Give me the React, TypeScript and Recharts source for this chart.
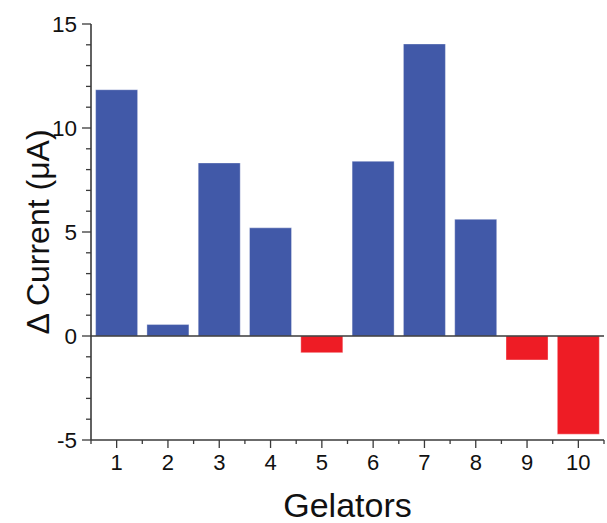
import React from 'react'
import { BarChart, Bar, XAxis, YAxis, Cell, ReferenceLine, Label } from 'recharts'

// Δ current per gelator (µA)
const GELATORS = ['1', '2', '3', '4', '5', '6', '7', '8', '9', '10']
const DELTA_CURRENT = [11.84, 0.55, 8.32, 5.2, -0.8, 8.4, 14.04, 5.61, -1.15, -4.72]
const Y_TICKS = [-5, -4, -3, -2, -1, 0, 1, 2, 3, 4, 5, 6, 7, 8, 9, 10, 11, 12, 13, 14, 15]

const BLUE = '#4159a8'
const RED = '#ee1c25'
const AXIS = '#3a3a3a'
const FONT = '"Liberation Sans", Arial, sans-serif'

const data = GELATORS.map((g, i) => ({ gelator: g, value: DELTA_CURRENT[i] }))

function YTick({ x, y, payload }: any) {
  const major = payload.value % 5 === 0
  return (
    <g>
      <line x1={x - (major ? 9 : 5)} x2={x} y1={y} y2={y} stroke={AXIS} strokeWidth={1.3} />
      {major && (
        <text x={x - 14} y={y} dy="0.34em" textAnchor="end" fontSize={22.5} fill="#111" fontFamily={FONT}>
          {payload.value}
        </text>
      )}
    </g>
  )
}

function XTick({ x, y, payload, index, visibleTicksCount }: any) {
  const half = payload.offset ?? 0
  const last = index === visibleTicksCount - 1
  return (
    <g>
      <line x1={x} x2={x} y1={y} y2={y + 8} stroke={AXIS} strokeWidth={1.3} />
      <line x1={x - half} x2={x - half} y1={y} y2={y + 4} stroke={AXIS} strokeWidth={1.3} />
      {last && <line x1={x + half} x2={x + half} y1={y} y2={y + 4} stroke={AXIS} strokeWidth={1.3} />}
      <text x={x} y={y + 30} textAnchor="middle" fontSize={22} fill="#111" fontFamily={FONT}>
        {payload.value}
      </text>
    </g>
  )
}

export default function App() {
  return (
    <div style={{ position: 'absolute', left: 0, top: 0, background: '#fff' }}>
      <BarChart
        width={607}
        height={523}
        data={data}
        margin={{ top: 24, right: 3, left: 0, bottom: 0 }}
        barCategoryGap="9%"
      >
        <XAxis
          dataKey="gelator"
          height={83}
          tickSize={0}
          tickMargin={0}
          tickLine={false}
          interval={0}
          axisLine={{ stroke: AXIS, strokeWidth: 1.6 }}
          tick={<XTick />}
        >
          <Label value="Gelators" position="insideBottom" offset={6} fontSize={34} fill="#111" fontFamily={FONT} />
        </XAxis>
        <XAxis xAxisId="top" orientation="top" height={0} tick={false} tickLine={false} axisLine={{ stroke: AXIS, strokeWidth: 1.6 }} />
        <YAxis
          type="number"
          domain={[-5, 15]}
          ticks={Y_TICKS}
          interval={0}
          width={91}
          tickSize={0}
          tickMargin={0}
          tickLine={false}
          axisLine={{ stroke: AXIS, strokeWidth: 1.6 }}
          tick={<YTick />}
        >
          <Label value="Δ Current (μA)" angle={-90} position="center" dx={-8} fontSize={32} fill="#111" fontFamily={FONT} />
        </YAxis>
        <YAxis yAxisId="right" orientation="right" width={0} tick={false} tickLine={false} axisLine={{ stroke: '#b5b5b5', strokeWidth: 1 }} />
        <ReferenceLine y={0} stroke={AXIS} strokeWidth={1.4} />
        <Bar dataKey="value" isAnimationActive={false} stroke="#ffffff" strokeOpacity={0.35} strokeWidth={1}>
          {data.map((d) => (
            <Cell key={d.gelator} fill={d.value < 0 ? RED : BLUE} />
          ))}
        </Bar>
      </BarChart>
    </div>
  )
}
